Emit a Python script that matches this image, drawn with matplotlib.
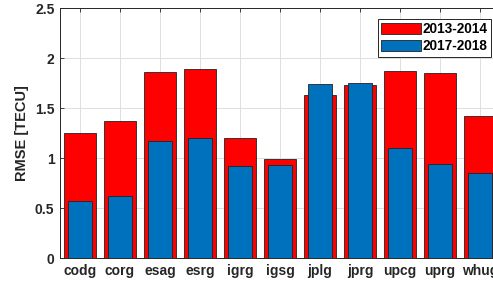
import numpy as np
from matplotlib import pyplot as plt

# dados
centros = ["codg", "corg", "esag", "esrg", "igrg", "igsg", "jplg", "jprg", "upcg", "uprg", "whug"]
rmse_2013_2014 = [1.25, 1.37, 1.86, 1.89, 1.20, 0.99, 1.63, 1.73, 1.87, 1.85, 1.42]
rmse_2017_2018 = [0.57, 0.62, 1.17, 1.20, 0.92, 0.93, 1.74, 1.75, 1.10, 0.94, 0.85]

plt.rcParams['font.family'] = ['Liberation Sans', 'DejaVu Sans']
plt.rcParams['font.weight'] = 'bold'

fig = plt.figure(figsize=(4.93, 2.86), dpi=100)
ax = fig.add_axes([60 / 493, 28 / 286, 440 / 493, 250 / 286])

x = np.arange(1, len(centros) + 1)
ax.bar(x, rmse_2013_2014, width=0.82, color="#FF0000", edgecolor="#222222", linewidth=0.6,
       label="2013-2014", zorder=3)
ax.bar(x, rmse_2017_2018, width=0.6, color="#0072BD", edgecolor="#222222", linewidth=0.6,
       label="2017-2018", zorder=4)

ax.set_xlim(0.5, len(centros) + 0.5)
ax.set_ylim(0, 2.5)
ax.set_xticks(x)
ax.set_xticklabels(centros, fontsize=10, fontweight="bold", color="#262626")
ax.set_yticks(np.arange(0, 2.51, 0.5))
ax.set_yticklabels(["0", "0.5", "1", "1.5", "2", "2.5"], fontsize=10, fontweight="bold", color="#262626")
ax.set_ylabel("RMSE [TECU]", fontsize=10.5, fontweight="bold", color="#262626")

ax.grid(True, color="#DFDFDF", linewidth=0.7, zorder=0)
ax.set_axisbelow(True)
ax.tick_params(direction="in", length=3, width=0.6, color="#262626", top=True, right=True, pad=4)
for s in ax.spines.values():
    s.set_color("#262626")
    s.set_linewidth(0.7)

# legenda posicionada em pixels da figura (canto superior direito em 491, 20)
leg = ax.legend(loc="upper right", bbox_to_anchor=(491 / 493, 1 - 19 / 286),
                bbox_transform=fig.transFigure,
                fontsize=9.8, fancybox=False, framealpha=1, edgecolor="#262626",
                handlelength=2.9, handleheight=0.85, borderpad=0.25, labelspacing=0.2,
                handletextpad=0.15, borderaxespad=0)
leg.get_frame().set_linewidth(0.7)
for t in leg.get_texts():
    t.set_fontweight("bold")

fig.savefig("out.png", dpi=100)
